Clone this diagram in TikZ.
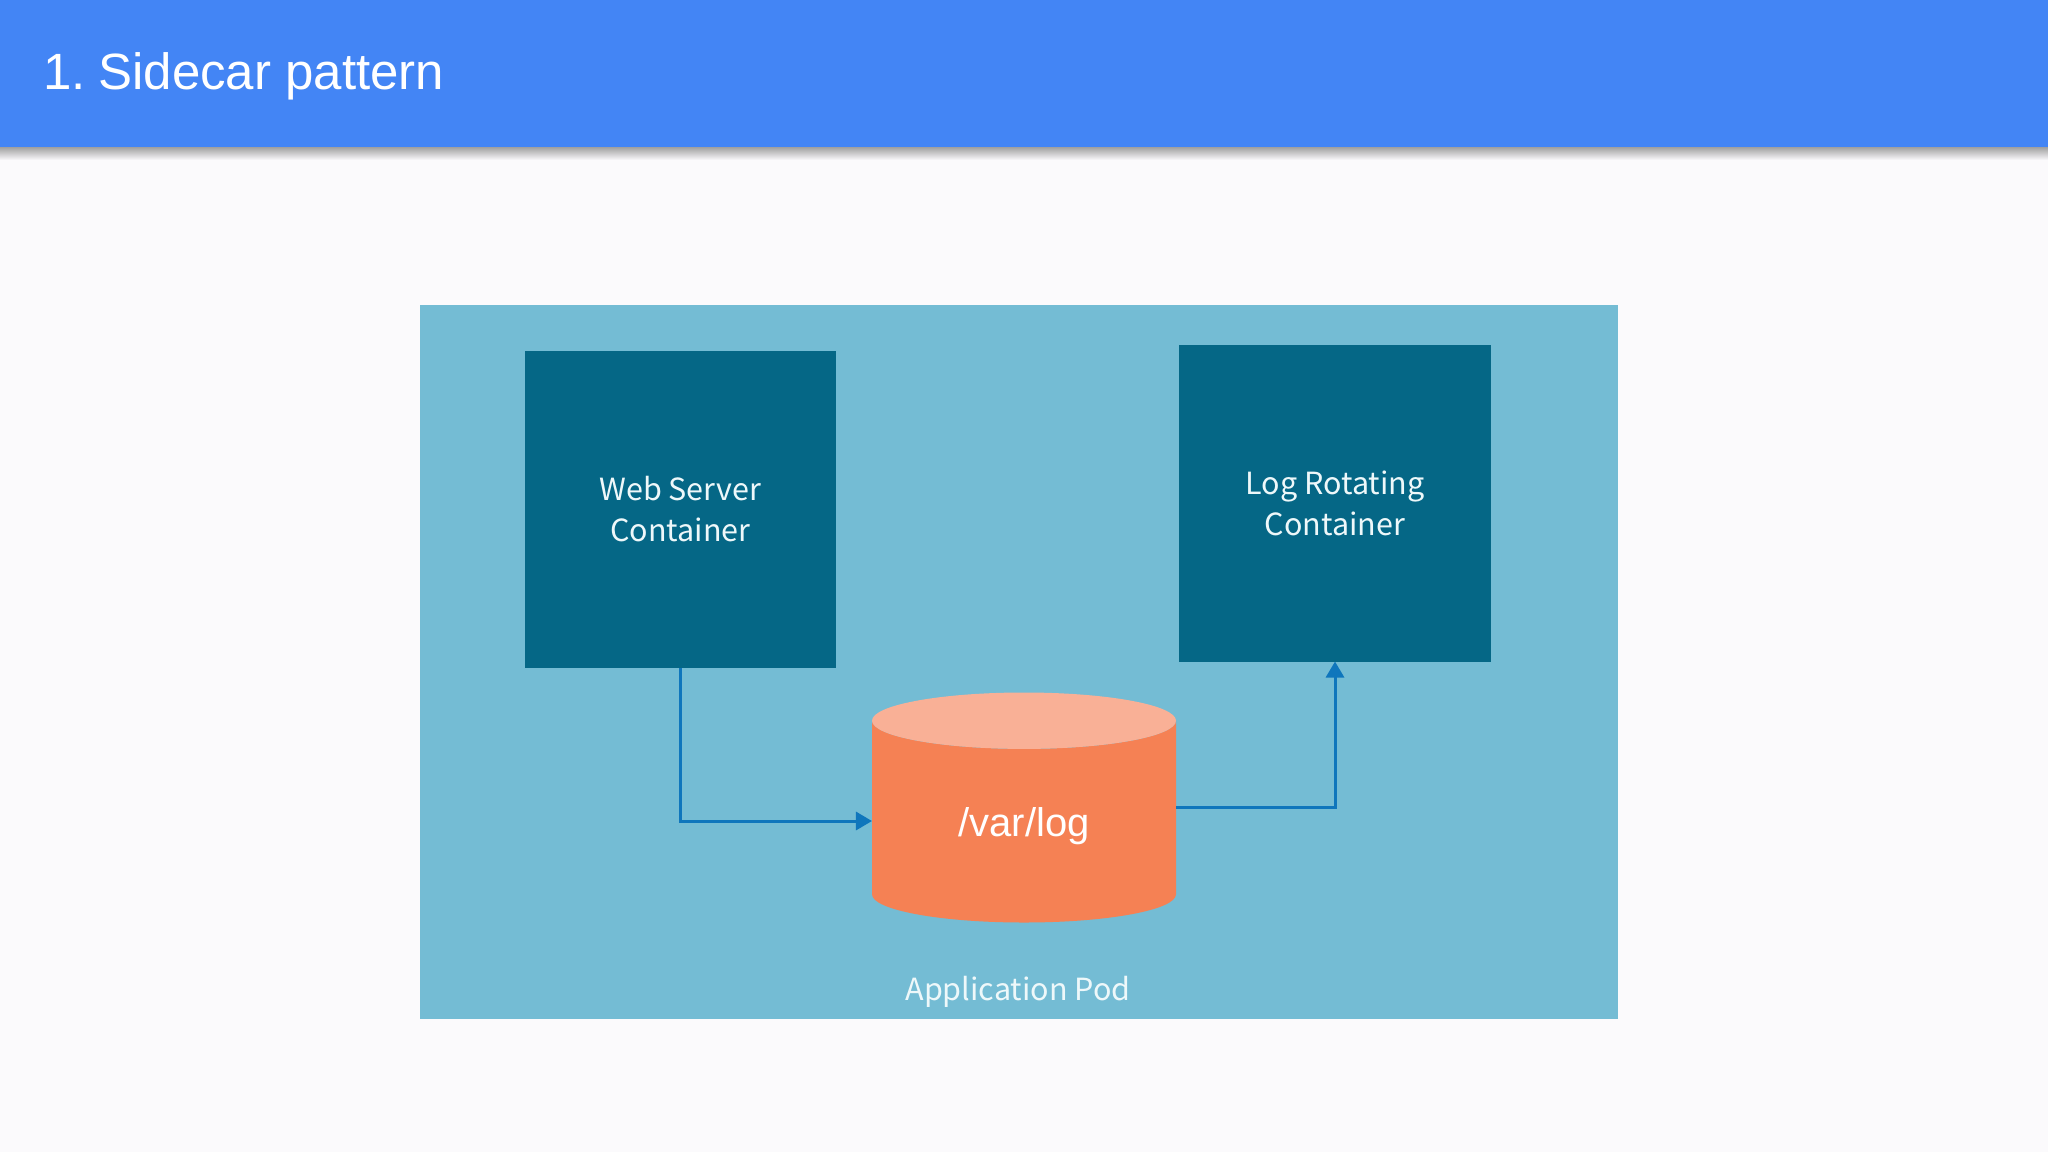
\documentclass[tikz,border=0pt]{standalone}
\usepackage{fontspec}
\setmainfont{Liberation Sans}
\newfontfamily\boxfont{Noto Sans CJK JP}
\usetikzlibrary{arrows.meta,shapes.geometric}
\definecolor{slidebg}{HTML}{FBFAFC}
\definecolor{headerblue}{HTML}{4385F5}
\definecolor{podblue}{HTML}{74BCD4}
\definecolor{boxblue}{HTML}{056786}
\definecolor{cylbody}{HTML}{F58154}
\definecolor{cyltop}{HTML}{F9B096}
\definecolor{flowblue}{HTML}{0F76BC}
\definecolor{softwhite}{HTML}{EEF8FA}
\begin{document}
\begin{tikzpicture}
[x=1pt,y=-1pt,%
  every node/.style={inner sep=0pt,outer sep=0pt},
  container/.style={fill=boxblue,text=softwhite,minimum width=311.5pt,align=center,
    font=\boxfont\fontsize{30.5}{41}\selectfont},
  flow/.style={draw=flowblue,line width=3pt,-{Triangle[length=16pt,width=18pt]}}]
\useasboundingbox (0,0) rectangle (2048,1152);
\fill[slidebg] (0,0) rectangle (2048,1152);
\shade[top color=black!40,bottom color=slidebg] (0,146) rectangle (2048,160);
\node[fill=headerblue,minimum width=2048pt,minimum height=147pt] (header) at (1024,73.5) {};
\node[anchor=base west,text=white,font=\fontsize{51}{60}\selectfont] (title) at (43,89) {1. \kern-6pt Sidecar pattern};
\node[fill=podblue,minimum width=1198.5pt,minimum height=714pt] (pod) at (1018.75,662) {};
\node[container,minimum height=317pt] (webserver) at (680.25,509) {Web Server\\Container};
\node[container,minimum height=316.5pt] (logrotating) at (1335,503.25) {Log Rotating\\Container};
\node[cylinder,shape border rotate=90,aspect=0.43,minimum width=304pt,minimum height=230pt,
  cylinder uses custom fill,cylinder body fill=cylbody,cylinder end fill=cyltop,anchor=shape center,
  font=\fontsize{40}{48}\selectfont] (varlog) at (1024,807.5) {\phantom{/var/log}};
\node[anchor=base,text=white,font=\fontsize{40}{48}\selectfont] (varlabel) at (1024,836) {/var/log};
\node[anchor=base,text=softwhite,font=\boxfont\fontsize{30.5}{41}\selectfont] (podlabel) at (1018,1000) {Application Pod};
\coordinate (varin) at (varlog.west |- 0,821);
\coordinate (varout) at (varlog.east |- 0,807);
\draw[flow] (webserver.south) |- (varin);
\draw[flow] (varout) -| (logrotating.south);
\end{tikzpicture}
\end{document}
